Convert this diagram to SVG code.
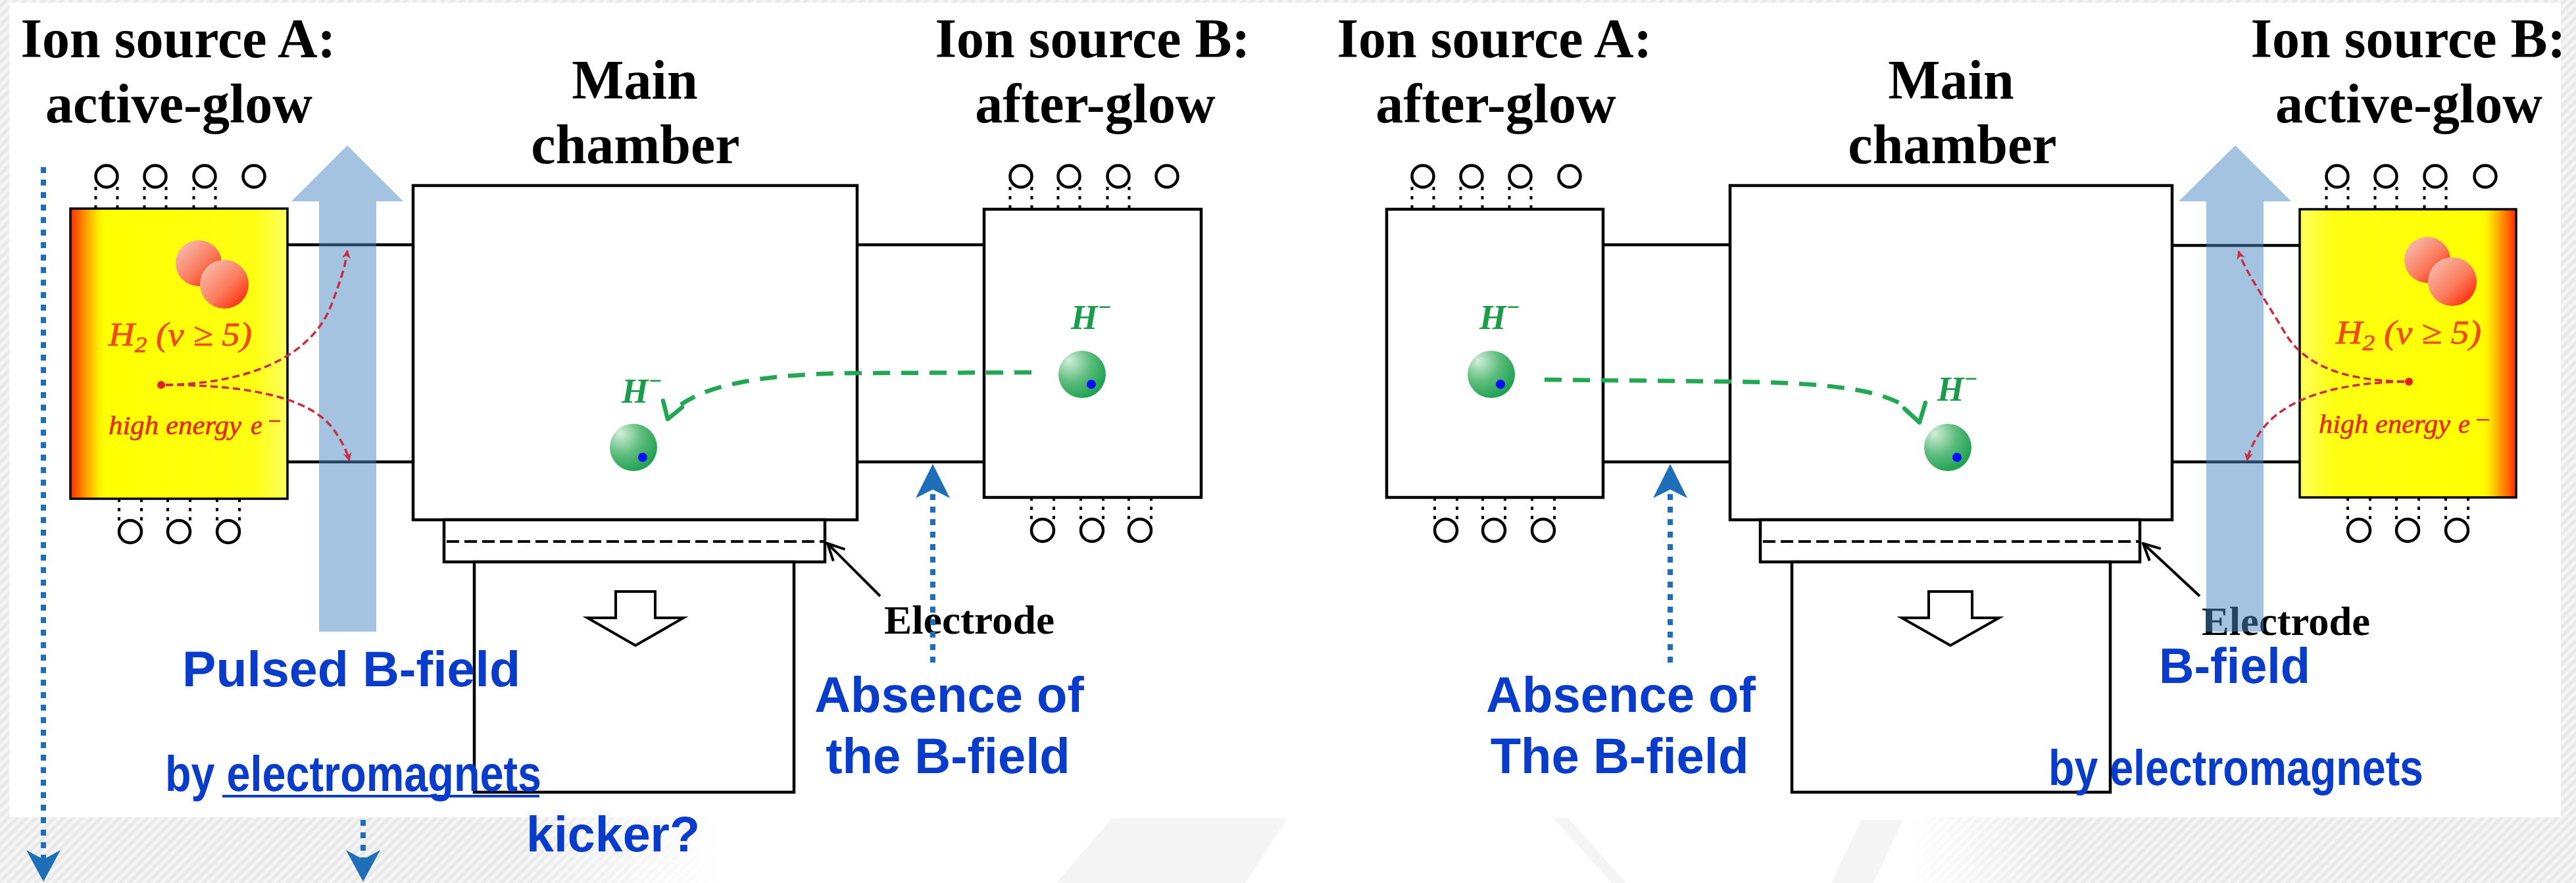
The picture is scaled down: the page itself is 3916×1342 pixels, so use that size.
<svg xmlns="http://www.w3.org/2000/svg" xmlns:xlink="http://www.w3.org/1999/xlink" width="3916" height="1342" viewBox="0 0 3916 1342">
  <style>
    .box { fill: #fff; stroke: #000; stroke-width: 4.5; }
    .hot { stroke: #000; stroke-width: 3.5; }
    .pipe { stroke: #000; stroke-width: 4.5; fill: none; }
    .coil { fill: none; stroke: #000; stroke-width: 4.5; }
    .lead { stroke: #000; stroke-width: 4; stroke-dasharray: 5 9; fill: none; }
    .head { font-family: "Liberation Serif", "Times New Roman", serif; font-weight: bold; font-size: 84px; fill: #000; text-anchor: middle; }
    .electrode { font-family: "Liberation Serif", "Times New Roman", serif; font-weight: bold; font-size: 62px; fill: #000; }
    .note { font-family: "Liberation Sans", Arial, sans-serif; font-weight: bold; font-size: 76px; fill: #0a3ccc; }
    .ion { font-family: "Liberation Serif", "Times New Roman", serif; font-weight: bold; font-style: italic; font-size: 52px; fill: #1a9c4a; }
    .h2 { font-family: "Liberation Serif", "Times New Roman", serif; font-style: italic; font-size: 50px; fill: #f04a12; stroke: #f04a12; stroke-width: 0.8; }
    .hee { font-family: "Liberation Serif", "Times New Roman", serif; font-style: italic; font-size: 40px; fill: #e42a14; stroke: #e42a14; stroke-width: 0.6; }
    .field { fill: #4a87c2; fill-opacity: 0.5; }
    .ecurve { fill: none; stroke: #cc2c3c; stroke-width: 3.5; stroke-dasharray: 11 6; }
    .traj { fill: none; stroke: #22a852; stroke-width: 6.5; stroke-dasharray: 26 17; }
    .trajhead { fill: none; stroke: #22a852; stroke-width: 6.5; stroke-linecap: round; stroke-linejoin: round; }
    .bdot { fill: none; stroke: #1e6fb8; stroke-width: 8; stroke-dasharray: 9 10; }
    .bhead { fill: #1e6fb8; }
    .pointer { stroke: #000; stroke-width: 4; fill: none; }
    .plate { fill: none; stroke: #000; stroke-width: 4; stroke-dasharray: 19 8; }
  </style>
  <defs>
    <pattern id="stripes" width="10" height="10" patternUnits="userSpaceOnUse" patternTransform="rotate(45)">
      <rect width="10" height="10" fill="#e9e9e9"/>
      <rect width="5" height="10" fill="#f5f5f5"/>
    </pattern>
    <linearGradient id="bandFade" x1="0" y1="0" x2="1" y2="0">
      <stop offset="0.2" stop-color="#fff" stop-opacity="0"/>
      <stop offset="0.28" stop-color="#fff" stop-opacity="1"/>
      <stop offset="0.74" stop-color="#fff" stop-opacity="1"/>
      <stop offset="0.8" stop-color="#fff" stop-opacity="0"/>
    </linearGradient>
    <linearGradient id="glowL" x1="0" y1="0" x2="1" y2="0">
      <stop offset="0" stop-color="#ff2a00"/>
      <stop offset="0.04" stop-color="#ff6a00"/>
      <stop offset="0.09" stop-color="#ffb800"/>
      <stop offset="0.13" stop-color="#ffee00"/>
      <stop offset="0.16" stop-color="#ffff00"/>
      <stop offset="0.85" stop-color="#ffff14"/>
      <stop offset="1" stop-color="#ffff60"/>
    </linearGradient>
    <linearGradient id="glowR" x1="1" y1="0" x2="0" y2="0">
      <stop offset="0" stop-color="#ff2a00"/>
      <stop offset="0.04" stop-color="#ff6a00"/>
      <stop offset="0.09" stop-color="#ffb800"/>
      <stop offset="0.13" stop-color="#ffee00"/>
      <stop offset="0.16" stop-color="#ffff00"/>
      <stop offset="0.85" stop-color="#ffff14"/>
      <stop offset="1" stop-color="#ffff60"/>
    </linearGradient>
    <linearGradient id="atom" x1="0.15" y1="0.15" x2="0.9" y2="0.9">
      <stop offset="0" stop-color="#f7b4a4"/>
      <stop offset="0.55" stop-color="#fa7a5a"/>
      <stop offset="1" stop-color="#ff2a08"/>
    </linearGradient>
    <radialGradient id="anion" cx="0.3" cy="0.28" r="0.85" fx="0.22" fy="0.2">
      <stop offset="0" stop-color="#d4eedb"/>
      <stop offset="0.5" stop-color="#5cbc7c"/>
      <stop offset="1" stop-color="#139c48"/>
    </radialGradient>
    <marker id="redTip" viewBox="0 0 10 10" refX="9" refY="5" markerWidth="15" markerHeight="13" markerUnits="userSpaceOnUse" orient="auto">
      <path d="M0,0 L10,5 L0,10 L3,5 z" fill="#cc2c3c"/>
    </marker>
    <marker id="openTip" viewBox="0 0 12 12" refX="11" refY="6" markerWidth="30" markerHeight="30" markerUnits="userSpaceOnUse" orient="auto">
      <path d="M1,1 L11,6 L1,11" fill="none" stroke="#000" stroke-width="1.6"/>
    </marker>
    <!-- coil turn above a source: ring plus two dotted leads down to the lid -->
    <g id="coilTop">
      <line class="lead" x1="-16.5" y1="16" x2="-16.5" y2="50"/>
      <line class="lead" x1="16.5" y1="16" x2="16.5" y2="50"/>
      <circle class="coil" r="16.5"/>
    </g>
    <g id="coilEnd">
      <circle class="coil" r="16.5"/>
    </g>
    <!-- coil turn below a source: dotted leads up to the floor -->
    <g id="coilBottom">
      <line class="lead" x1="-17" y1="-50" x2="-17" y2="-16"/>
      <line class="lead" x1="17" y1="-50" x2="17" y2="-16"/>
      <circle class="coil" r="17"/>
    </g>
    <g id="anionBall">
      <circle r="36" fill="url(#anion)"/>
      <circle cx="14" cy="15" r="7" fill="#0010ff"/>
    </g>
  </defs>

  <!-- slide backdrop -->
  <rect width="3916" height="1342" fill="url(#stripes)"/>
  <rect x="0" y="1242" width="3916" height="100" fill="url(#bandFade)"/>
  <rect x="14" y="4" width="3879" height="1238" fill="#fff"/>
  <g fill="#f5f5f5">
    <polygon points="1606,1342 1690,1244 1957,1244 1893,1342"/>
    <polygon points="2362,1244 2384,1244 2472,1342 2450,1342"/>
    <polygon points="2784,1342 2829,1246 2893,1246 2848,1342"/>
  </g>

  <!-- ===== left scene: source A active ===== -->
  <g id="sourceA-active">
    <rect class="hot" x="107" y="317" width="330" height="441" fill="url(#glowL)"/>
    <use href="#coilTop" x="162" y="268"/>
    <use href="#coilTop" x="236" y="268"/>
    <use href="#coilTop" x="311" y="268"/>
    <use href="#coilEnd" x="386" y="268"/>
    <use href="#coilBottom" x="198" y="808"/>
    <use href="#coilBottom" x="272" y="808"/>
    <use href="#coilBottom" x="347" y="808"/>
    <circle cx="302" cy="400" r="35" fill="url(#atom)"/>
    <circle cx="341" cy="432" r="37" fill="url(#atom)"/>
    <text class="h2" x="165" y="525" textLength="218" lengthAdjust="spacingAndGlyphs">H<tspan dy="10" font-size="34">2</tspan><tspan dy="-10"> (v ≥ 5)</tspan></text>
    <circle cx="245" cy="585" r="6" fill="#e81c1c"/>
    <text class="hee" x="165" y="660" textLength="202" lengthAdjust="spacingAndGlyphs">high energy</text>
    <text class="hee" x="381" y="660" font-size="62">e</text>
    <line x1="409" y1="640" x2="426" y2="640" stroke="#e42a14" stroke-width="2.5"/>
    <text class="head" x="271" y="87">Ion source A:</text>
    <text class="head" x="272" y="186">active-glow</text>
  </g>

  <g id="chamber-left">
    <line class="pipe" x1="437" y1="372" x2="628" y2="372"/>
    <line class="pipe" x1="437" y1="702" x2="628" y2="702"/>
    <rect class="box" x="628" y="282" width="675" height="508"/>
    <text class="head" x="965" y="150">Main</text>
    <text class="head" x="966" y="248">chamber</text>
    <text class="ion" x="945" y="612">H<tspan dy="-22" font-size="34">−</tspan></text>
    <use href="#anionBall" x="963" y="680"/>
  </g>

  <g id="electrode-left">
    <rect class="box" x="675" y="790" width="579" height="64"/>
    <line class="plate" x1="679" y1="823" x2="1252" y2="823"/>
    <text class="electrode" x="1344" y="963" textLength="259" lengthAdjust="spacingAndGlyphs">Electrode</text>
  </g>

  <g id="kicker-left">
    <rect class="box" x="721" y="854" width="486" height="350"/>
    <polygon points="936,899 996,899 996,939 1039,939 966,981 893,939 936,939" fill="#fff" stroke="#000" stroke-width="4"/>
  </g>

  <g id="sourceB-after">
    <line class="pipe" x1="1303" y1="372" x2="1496" y2="372"/>
    <line class="pipe" x1="1303" y1="702" x2="1496" y2="702"/>
    <rect class="box" x="1496" y="318" width="330" height="438"/>
    <use href="#coilTop" x="1552" y="268"/>
    <use href="#coilTop" x="1625" y="268"/>
    <use href="#coilTop" x="1700" y="268"/>
    <use href="#coilEnd" x="1774" y="268"/>
    <use href="#coilBottom" x="1585" y="806"/>
    <use href="#coilBottom" x="1660" y="806"/>
    <use href="#coilBottom" x="1733" y="806"/>
    <text class="ion" x="1628" y="500">H<tspan dy="-22" font-size="34">−</tspan></text>
    <use href="#anionBall" x="1645" y="569"/>
    <text class="head" x="1661" y="87">Ion source B:</text>
    <text class="head" x="1665" y="186">after-glow</text>
  </g>

  <g id="field-left">
    <polygon class="field" points="485,960 485,306 443,306 528,221 613,306 572,306 572,960"/>
    <text class="note" x="277" y="1043" textLength="514" lengthAdjust="spacingAndGlyphs">Pulsed B-field</text>
    <text class="note" x="251" y="1202" textLength="572" lengthAdjust="spacingAndGlyphs">by electromagnets</text>
    <line x1="338" y1="1210" x2="820" y2="1210" stroke="#0a3ccc" stroke-width="4"/>
    <text class="note" x="800" y="1294" textLength="264" lengthAdjust="spacingAndGlyphs">kicker?</text>
  </g>

  <g id="nofield-left">
    <text class="note" x="1443" y="1082" text-anchor="middle">Absence of</text>
    <text class="note" x="1441" y="1175" text-anchor="middle">the B-field</text>
  </g>

  <!-- ===== right scene: source B active ===== -->
  <g id="sourceA-after">
    <rect class="box" x="2108" y="318" width="329" height="438"/>
    <use href="#coilTop" x="2163" y="268"/>
    <use href="#coilTop" x="2237" y="268"/>
    <use href="#coilTop" x="2311" y="268"/>
    <use href="#coilEnd" x="2386" y="268"/>
    <use href="#coilBottom" x="2198" y="806"/>
    <use href="#coilBottom" x="2271" y="806"/>
    <use href="#coilBottom" x="2346" y="806"/>
    <text class="ion" x="2249" y="500">H<tspan dy="-22" font-size="34">−</tspan></text>
    <use href="#anionBall" x="2267" y="569"/>
    <text class="head" x="2272" y="87">Ion source A:</text>
    <text class="head" x="2274" y="186">after-glow</text>
  </g>

  <g id="chamber-right">
    <line class="pipe" x1="2437" y1="372" x2="2630" y2="372"/>
    <line class="pipe" x1="2437" y1="702" x2="2630" y2="702"/>
    <rect class="box" x="2630" y="282" width="672" height="508"/>
    <text class="head" x="2966" y="150">Main</text>
    <text class="head" x="2968" y="248">chamber</text>
    <text class="ion" x="2945" y="609">H<tspan dy="-22" font-size="34">−</tspan></text>
    <use href="#anionBall" x="2961" y="680"/>
  </g>

  <g id="electrode-right">
    <rect class="box" x="2676" y="790" width="577" height="64"/>
    <line class="plate" x1="2680" y1="823" x2="3251" y2="823"/>
    <text class="electrode" x="3347" y="965" textLength="256" lengthAdjust="spacingAndGlyphs">Electrode</text>
  </g>

  <g id="kicker-right">
    <rect class="box" x="2724" y="854" width="484" height="350"/>
    <polygon points="2932,899 2998,899 2998,939 3039,939 2965,981 2891,939 2932,939" fill="#fff" stroke="#000" stroke-width="4"/>
  </g>

  <g id="sourceB-active">
    <line class="pipe" x1="3302" y1="373" x2="3496" y2="373"/>
    <line class="pipe" x1="3302" y1="702" x2="3496" y2="702"/>
    <rect class="hot" x="3496" y="318" width="329" height="438" fill="url(#glowR)"/>
    <use href="#coilTop" x="3553" y="268"/>
    <use href="#coilTop" x="3627" y="268"/>
    <use href="#coilTop" x="3702" y="268"/>
    <use href="#coilEnd" x="3778" y="268"/>
    <use href="#coilBottom" x="3586" y="806"/>
    <use href="#coilBottom" x="3660" y="806"/>
    <use href="#coilBottom" x="3735" y="806"/>
    <circle cx="3690" cy="395" r="35" fill="url(#atom)"/>
    <circle cx="3728" cy="428" r="37" fill="url(#atom)"/>
    <text class="h2" x="3551" y="522" textLength="221" lengthAdjust="spacingAndGlyphs">H<tspan dy="10" font-size="34">2</tspan><tspan dy="-10"> (v ≥ 5)</tspan></text>
    <circle cx="3662" cy="580" r="6" fill="#e81c1c"/>
    <text class="hee" x="3525" y="658" textLength="200" lengthAdjust="spacingAndGlyphs">high energy</text>
    <text class="hee" x="3737" y="658" font-size="62">e</text>
    <line x1="3765" y1="638" x2="3784" y2="638" stroke="#e42a14" stroke-width="2.5"/>
    <text class="head" x="3661" y="87">Ion source B:</text>
    <text class="head" x="3662" y="186">active-glow</text>
  </g>

  <g id="field-right">
    <text class="note" x="3282" y="1038" textLength="230" lengthAdjust="spacingAndGlyphs">B-field</text>
    <text class="note" x="3114" y="1193" textLength="570" lengthAdjust="spacingAndGlyphs">by electromagnets</text>
    <polygon class="field" points="3354,960 3354,306 3312,306 3398,221 3483,306 3441,306 3441,960"/>
  </g>

  <g id="nofield-right">
    <text class="note" x="2464" y="1082" text-anchor="middle">Absence of</text>
    <text class="note" x="2462" y="1175" text-anchor="middle">The B-field</text>
  </g>

  <!-- ===== connectors ===== -->
  <g id="connectors">
    <!-- electron paths leaving the active discharge -->
    <path class="ecurve" d="M252,585 C400,582 480,530 505,460 C518,425 525,405 528,381" marker-end="url(#redTip)"/>
    <path class="ecurve" d="M252,585 C380,585 470,605 505,650 C520,670 528,688 531,700" marker-end="url(#redTip)"/>
    <path class="ecurve" d="M3655,580 C3560,578 3500,555 3470,500 C3440,450 3412,410 3403,382" marker-end="url(#redTip)"/>
    <path class="ecurve" d="M3655,580 C3540,582 3480,610 3450,640 C3430,660 3419,685 3416,700" marker-end="url(#redTip)"/>

    <!-- H- transport into the main chamber -->
    <path class="traj" d="M1568,566 L1300,567 C1180,568 1085,580 1035,615"/>
    <polyline class="trajhead" points="1008,609 1015,637 1037,619"/>
    <path class="traj" d="M2348,577 L2640,580 C2780,582 2860,592 2900,620"/>
    <polyline class="trajhead" points="2895,621 2918,642 2927,612"/>

    <!-- electrode pointers -->
    <line class="pointer" x1="1338" y1="906" x2="1258" y2="826" marker-end="url(#openTip)"/>
    <line class="pointer" x1="3344" y1="906" x2="3258" y2="826" marker-end="url(#openTip)"/>

    <!-- field-free drift region markers -->
    <line class="bdot" x1="1418" y1="1007" x2="1418" y2="746"/>
    <polygon class="bhead" points="1418,705 1444,757 1418,744 1392,757"/>
    <line class="bdot" x1="2539" y1="1007" x2="2539" y2="746"/>
    <polygon class="bhead" points="2539,705 2565,757 2539,744 2513,757"/>

    <!-- downward dotted arrows on the left -->
    <line class="bdot" x1="66" y1="254" x2="66" y2="1306"/>
    <polygon class="bhead" points="66,1340 40,1292 66,1306 92,1292"/>
    <line class="bdot" x1="552" y1="1246" x2="552" y2="1306"/>
    <polygon class="bhead" points="552,1340 526,1292 552,1306 578,1292"/>
  </g>
</svg>
